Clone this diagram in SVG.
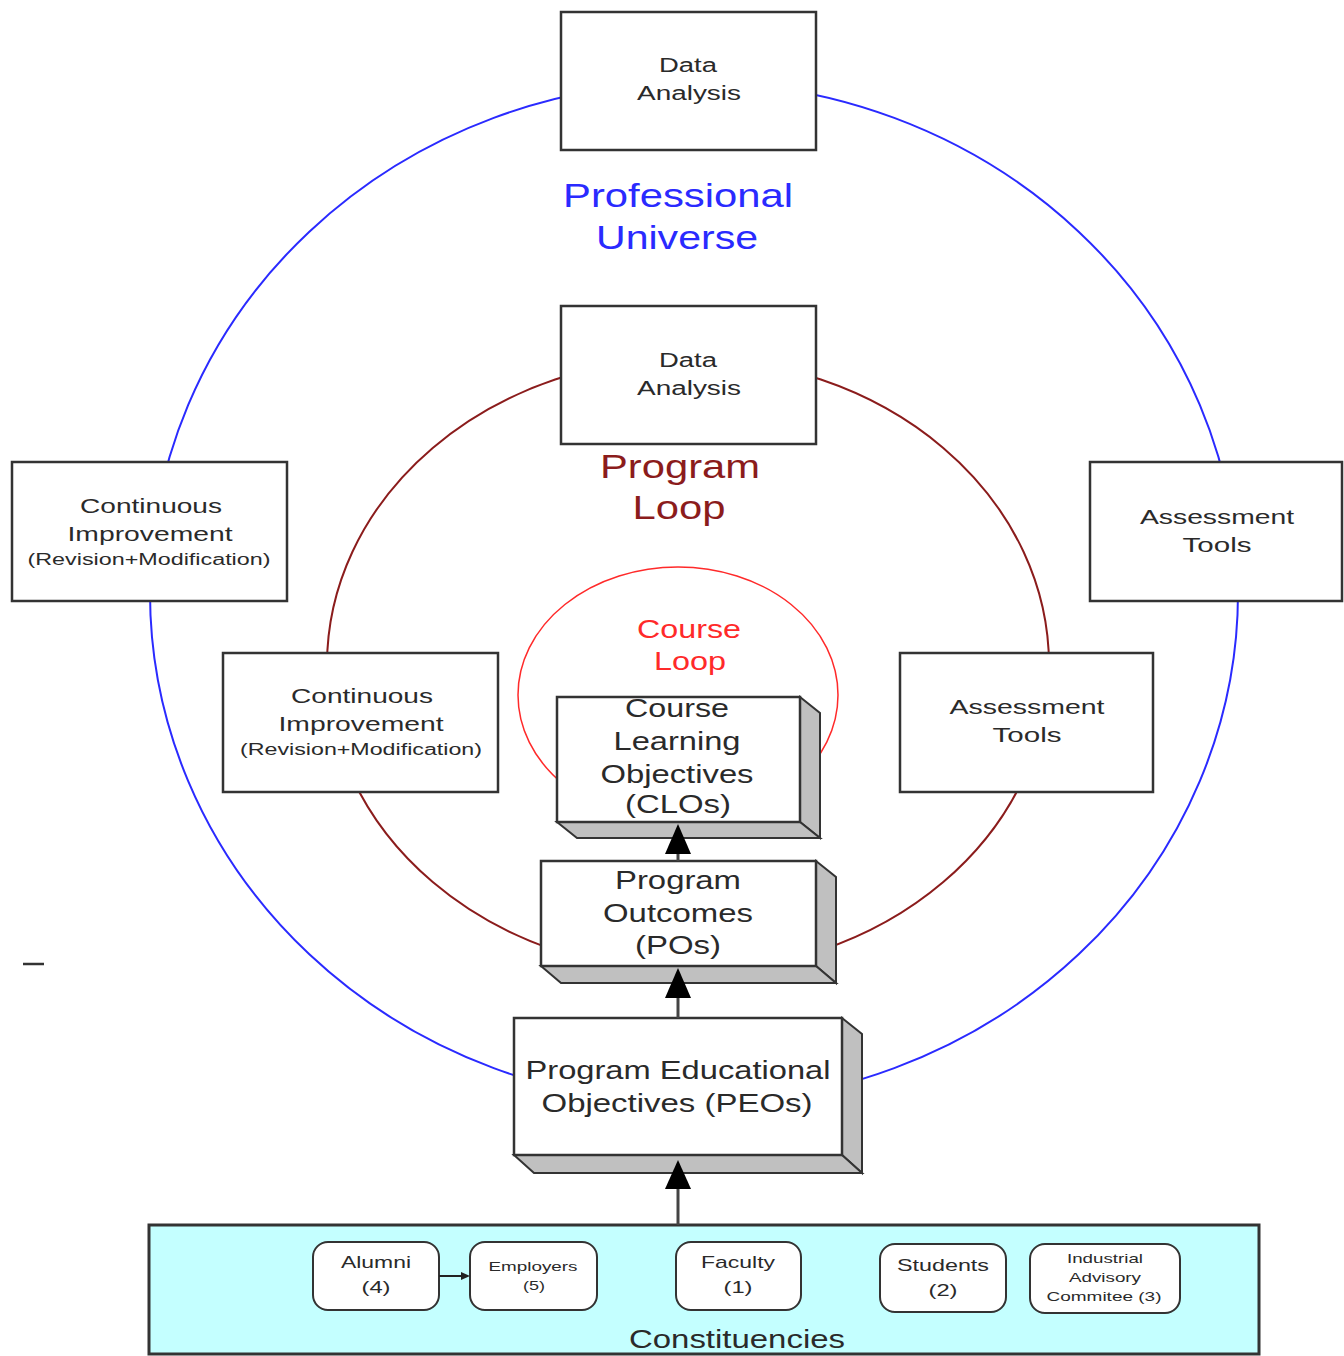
<svg xmlns="http://www.w3.org/2000/svg" width="1344" height="1356" viewBox="0 0 1344 1356">
<defs>
<style>
.box{fill:#fff;stroke:#333;stroke-width:2.5}
.side{fill:#c0c0c0;stroke:#333;stroke-width:2}
.t{font-family:"Liberation Sans",Arial,sans-serif;fill:#2a2a2a;text-anchor:middle}
.t17{font-size:20px}
.t3d{font-size:26px}
.sm{font-size:16px}
.c17{font-size:17px}
.c13{font-size:13px}
.rb{fill:#fff;stroke:#333;stroke-width:2}
.conn{stroke:#444;stroke-width:3;fill:none}
</style>
</defs>
<rect width="1344" height="1356" fill="#fff"/>
<g id="loops">
<ellipse cx="694" cy="593" rx="544" ry="511" fill="none" stroke="#2a2aff" stroke-width="2"/>
<ellipse cx="688" cy="665" rx="361" ry="307" fill="none" stroke="#8b1c1c" stroke-width="2"/>
<ellipse cx="678" cy="695" rx="160" ry="128" fill="none" stroke="#ff2a2a" stroke-width="1.5"/>
</g>
<g id="labels">
<text class="t" x="678" y="207" font-size="33" style="fill:#2a2aff" textLength="230" lengthAdjust="spacingAndGlyphs">Professional</text>
<text class="t" x="677" y="249" font-size="33" style="fill:#2a2aff" textLength="162" lengthAdjust="spacingAndGlyphs">Universe</text>
<text class="t" x="680" y="478" font-size="33" style="fill:#8b1c1c" textLength="160" lengthAdjust="spacingAndGlyphs">Program</text>
<text class="t" x="679" y="519" font-size="33" style="fill:#8b1c1c" textLength="93" lengthAdjust="spacingAndGlyphs">Loop</text>
<text class="t" x="689" y="638" font-size="25" style="fill:#ff2a2a" textLength="104" lengthAdjust="spacingAndGlyphs">Course</text>
<text class="t" x="690" y="670" font-size="25" style="fill:#ff2a2a" textLength="72" lengthAdjust="spacingAndGlyphs">Loop</text>
</g>
<g id="data-analysis-outer">
<rect class="box" x="561" y="12" width="255" height="138"/>
<text class="t t17" x="688" y="72" textLength="58" lengthAdjust="spacingAndGlyphs">Data</text>
<text class="t t17" x="689" y="100" textLength="104" lengthAdjust="spacingAndGlyphs">Analysis</text>
</g>
<g id="data-analysis-inner">
<rect class="box" x="561" y="306" width="255" height="138"/>
<text class="t t17" x="688" y="367" textLength="58" lengthAdjust="spacingAndGlyphs">Data</text>
<text class="t t17" x="689" y="395" textLength="104" lengthAdjust="spacingAndGlyphs">Analysis</text>
</g>
<g id="ci-outer">
<rect class="box" x="12" y="462" width="275" height="139"/>
<text class="t t17" x="151" y="513" textLength="142" lengthAdjust="spacingAndGlyphs">Continuous</text>
<text class="t t17" x="150" y="541" textLength="165" lengthAdjust="spacingAndGlyphs">Improvement</text>
<text class="t sm" x="149" y="565" textLength="243" lengthAdjust="spacingAndGlyphs">(Revision+Modification)</text>
</g>
<g id="ci-inner">
<rect class="box" x="223" y="653" width="275" height="139"/>
<text class="t t17" x="362" y="703" textLength="142" lengthAdjust="spacingAndGlyphs">Continuous</text>
<text class="t t17" x="361" y="731" textLength="165" lengthAdjust="spacingAndGlyphs">Improvement</text>
<text class="t sm" x="361" y="755" textLength="242" lengthAdjust="spacingAndGlyphs">(Revision+Modification)</text>
</g>
<g id="at-outer">
<rect class="box" x="1090" y="462" width="252" height="139"/>
<text class="t t17" x="1217" y="524" textLength="154" lengthAdjust="spacingAndGlyphs">Assessment</text>
<text class="t t17" x="1217" y="552" textLength="69" lengthAdjust="spacingAndGlyphs">Tools</text>
</g>
<g id="at-inner">
<rect class="box" x="900" y="653" width="253" height="139"/>
<text class="t t17" x="1027" y="714" textLength="155" lengthAdjust="spacingAndGlyphs">Assessment</text>
<text class="t t17" x="1027" y="742" textLength="69" lengthAdjust="spacingAndGlyphs">Tools</text>
</g>
<g id="clo">
<polygon class="side" points="800,697 820,713 820,838 800,822"/>
<polygon class="side" points="557,822 800,822 820,838 577,838"/>
<rect class="box" x="557" y="697" width="243" height="125"/>
<text class="t t3d" x="677" y="717" textLength="104" lengthAdjust="spacingAndGlyphs">Course</text>
<text class="t t3d" x="677" y="750" textLength="127" lengthAdjust="spacingAndGlyphs">Learning</text>
<text class="t t3d" x="677" y="783" textLength="153" lengthAdjust="spacingAndGlyphs">Objectives</text>
<text class="t t3d" x="678" y="813" textLength="106" lengthAdjust="spacingAndGlyphs">(CLOs)</text>
</g>
<g id="po">
<polygon class="side" points="816,861 836,877 836,983 816,966"/>
<polygon class="side" points="541,966 816,966 836,983 561,983"/>
<rect class="box" x="541" y="861" width="275" height="105"/>
<text class="t t3d" x="678" y="889" textLength="126" lengthAdjust="spacingAndGlyphs">Program</text>
<text class="t t3d" x="678" y="922" textLength="150" lengthAdjust="spacingAndGlyphs">Outcomes</text>
<text class="t t3d" x="678" y="954" textLength="86" lengthAdjust="spacingAndGlyphs">(POs)</text>
</g>
<g id="peo">
<polygon class="side" points="842,1018 862,1034 862,1173 842,1155"/>
<polygon class="side" points="514,1155 842,1155 862,1173 534,1173"/>
<rect class="box" x="514" y="1018" width="328" height="137"/>
<text class="t t3d" x="678" y="1079" textLength="305" lengthAdjust="spacingAndGlyphs">Program Educational</text>
<text class="t t3d" x="677" y="1112" textLength="271" lengthAdjust="spacingAndGlyphs">Objectives (PEOs)</text>
</g>
<g id="constituencies">
<rect x="149" y="1225" width="1110" height="129" fill="#c4ffff" stroke="#333" stroke-width="3"/>
<text class="t" x="737" y="1348" font-size="25" textLength="216" lengthAdjust="spacingAndGlyphs">Constituencies</text>
<g id="alumni">
<rect class="rb" x="313" y="1242" width="126" height="68" rx="15"/>
<text class="t c17" x="376" y="1268" textLength="70" lengthAdjust="spacingAndGlyphs">Alumni</text>
<text class="t c17" x="376" y="1293" textLength="29" lengthAdjust="spacingAndGlyphs">(4)</text>
</g>
<g id="employers">
<rect class="rb" x="470" y="1242" width="127" height="68" rx="15"/>
<text class="t c13" x="533" y="1271" textLength="89" lengthAdjust="spacingAndGlyphs">Employers</text>
<text class="t c13" x="534" y="1290" textLength="22" lengthAdjust="spacingAndGlyphs">(5)</text>
</g>
<g id="faculty">
<rect class="rb" x="676" y="1242" width="125" height="68" rx="15"/>
<text class="t c17" x="738" y="1268" textLength="74" lengthAdjust="spacingAndGlyphs">Faculty</text>
<text class="t c17" x="738" y="1293" textLength="29" lengthAdjust="spacingAndGlyphs">(1)</text>
</g>
<g id="students">
<rect class="rb" x="880" y="1244" width="126" height="68" rx="15"/>
<text class="t c17" x="943" y="1271" textLength="92" lengthAdjust="spacingAndGlyphs">Students</text>
<text class="t c17" x="943" y="1296" textLength="29" lengthAdjust="spacingAndGlyphs">(2)</text>
</g>
<g id="iac">
<rect class="rb" x="1030" y="1244" width="150" height="69" rx="15"/>
<text class="t c13" x="1105" y="1263" textLength="76" lengthAdjust="spacingAndGlyphs">Industrial</text>
<text class="t c13" x="1105" y="1282" textLength="72" lengthAdjust="spacingAndGlyphs">Advisory</text>
<text class="t c13" x="1104" y="1301" textLength="115" lengthAdjust="spacingAndGlyphs">Commitee (3)</text>
</g>
</g>
<g id="connectors">
<line class="conn" x1="678" y1="1225" x2="678" y2="1186"/>
<polygon points="678,1160 665,1189 691,1189" fill="#000"/>
<line class="conn" x1="678" y1="1018" x2="678" y2="996"/>
<polygon points="678,968 665,998 691,998" fill="#000"/>
<line class="conn" x1="678" y1="861" x2="678" y2="851"/>
<polygon points="678,824 665,854 691,854" fill="#000"/>
<line x1="439" y1="1276" x2="462" y2="1276" stroke="#222" stroke-width="2"/>
<polygon points="470,1276 461,1272 461,1280" fill="#222"/>
</g>
<line x1="23" y1="964" x2="44" y2="964" stroke="#333" stroke-width="2.5"/>
</svg>
